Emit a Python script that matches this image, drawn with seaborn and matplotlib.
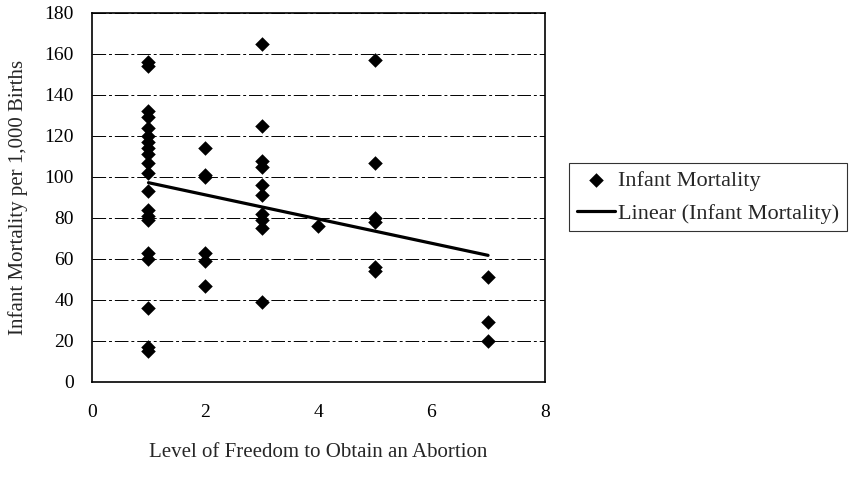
import numpy as np
import pandas as pd
import matplotlib
matplotlib.use("Agg")
import matplotlib.pyplot as plt
import seaborn as sns

# infant mortality values, grouped by freedom level
freedom_1 = [156, 154, 132, 129, 124, 120, 117, 114, 111, 107, 102, 93, 84, 81, 79, 63, 60, 36, 17, 15]
freedom_2 = [114, 101, 100, 63, 59, 47]
freedom_3 = [165, 125, 108, 105, 96, 91, 82, 79, 75, 39]
freedom_4 = [76]
freedom_5 = [157, 107, 80, 78, 56, 54]
freedom_7 = [51, 29, 20]

groups = {1: freedom_1, 2: freedom_2, 3: freedom_3, 4: freedom_4, 5: freedom_5, 7: freedom_7}
rows = [(k, v) for k, vals in groups.items() for v in vals]
df = pd.DataFrame(rows, columns=["freedom", "mortality"])

sns.set_style("white")
plt.rcParams["font.family"] = ["Liberation Serif", "DejaVu Serif"]

fig = plt.figure(figsize=(8.51, 4.78), dpi=100)
ax = fig.add_axes([0.108, 0.201, 0.532, 0.772])

sns.scatterplot(data=df, x="freedom", y="mortality", marker="D", s=55, color="black",
                edgecolor="black", linewidth=0, ax=ax, zorder=3)
sns.regplot(data=df, x="freedom", y="mortality", scatter=False, ci=None, truncate=True,
            color="black", line_kws={"linewidth": 2.3}, ax=ax)

ax.set_xlim(0, 8)
ax.set_ylim(0, 180)
ax.set_xticks([0, 2, 4, 6, 8])
ax.set_yticks(range(0, 181, 20))
ax.yaxis.grid(True, color="black", linewidth=0.7, linestyle=(0, (14, 3, 3, 3)))
ax.xaxis.grid(False)
for s in ax.spines.values():
    s.set_color("black")
    s.set_linewidth(1.2)
ax.tick_params(axis="x", direction="out", length=4, width=1, colors="black",
               labelsize=14, pad=12)
ax.tick_params(axis="y", direction="out", length=4, width=1, colors="black",
               labelsize=14, pad=9)
ax.set_xlabel("Level of Freedom to Obtain an Abortion", fontsize=15, labelpad=16)
ax.set_ylabel("Infant Mortality per 1,000 Births", fontsize=15, labelpad=12)

trend = ax.lines[-1]
pts = ax.collections[0]
leg = fig.legend([pts, trend], ["Infant Mortality", "Linear (Infant Mortality)"],
                 loc="upper left", bbox_to_anchor=(0.669, 0.66),
                 fontsize=16, frameon=True, fancybox=False, handlelength=1.7,
                 handletextpad=0.15, borderpad=0.35, labelspacing=0.55, borderaxespad=0)
leg.get_frame().set_edgecolor("black")
leg.get_frame().set_linewidth(0.8)

fig.savefig("out.png", dpi=100)
